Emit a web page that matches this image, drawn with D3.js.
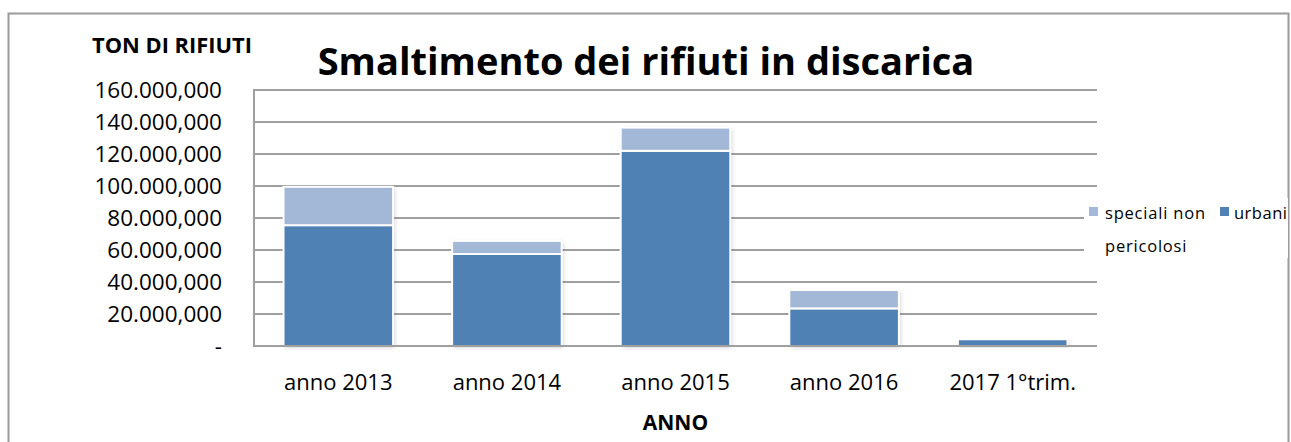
<!DOCTYPE html>
<html>
<head>
<meta charset="utf-8">
<script src="https://cdn.jsdelivr.net/npm/d3@7"></script>
<style>
  body { margin: 0; background: #fff; }
  svg { display: block; }
</style>
</head>
<body>
<div id="vis"></div>
<script>
// data (tonnes)
var categories = ["anno 2013", "anno 2014", "anno 2015", "anno 2016", "2017 1°trim."];
var urbani     = [75500000, 57500000, 122000000, 23500000, 4200000];
var speciali   = [24000000, 8200000, 14500000, 11500000, 0];
var yTicks     = [0, 20000000, 40000000, 60000000, 80000000, 100000000, 120000000, 140000000, 160000000];
var seriesNames = ["speciali non pericolosi", "urbani"];

var W = 1291, H = 442;
var font = "'Open Sans', sans-serif";
var colUrb = "#4f81b4", colSpec = "#a3b7d6", gridCol = "#a0a0a0";

var svg = d3.select("#vis").append("svg")
  .attr("width", W)
  .attr("height", H);

// shadow for bars
var defs = svg.append("defs");
var f = defs.append("filter").attr("id", "shadow")
  .attr("x", "-10%").attr("y", "-10%").attr("width", "130%").attr("height", "130%");
f.append("feDropShadow").attr("dx", 1.5).attr("dy", 1.5).attr("stdDeviation", 2)
  .attr("flood-color", "#000").attr("flood-opacity", 0.18);

// chart frame
svg.append("rect")
  .attr("x", 8.5).attr("y", 13.5)
  .attr("width", 1280).attr("height", 440)
  .attr("fill", "#fff")
  .attr("stroke", "#9a9a9a").attr("stroke-width", 2);

var plot = {left: 254, right: 1097, top: 90, bottom: 346};

var x = d3.scaleBand()
  .domain(categories)
  .range([plot.left, plot.right])
  .paddingInner(0.35)
  .paddingOuter(0.175);

var y = d3.scaleLinear()
  .domain([0, 160000000])
  .range([plot.bottom, plot.top]);

// italian style labels like the picture: 160.000,000
function fmt(v) {
  if (v === 0) return "-";
  var s = d3.format(",")(v / 1000).replace(/,/g, ".");
  return s + ",000";
}

// gridlines
svg.append("g")
  .selectAll("line")
  .data(yTicks)
  .join("line")
  .attr("x1", plot.left).attr("x2", plot.right)
  .attr("y1", d => y(d)).attr("y2", d => y(d))
  .attr("stroke", gridCol).attr("stroke-width", 2);

// left axis line
svg.append("line")
  .attr("x1", plot.left).attr("x2", plot.left)
  .attr("y1", plot.top - 1).attr("y2", plot.bottom + 1)
  .attr("stroke", gridCol).attr("stroke-width", 2);

// y labels
svg.append("g")
  .selectAll("text")
  .data(yTicks)
  .join("text")
  .attr("x", 222)
  .attr("y", d => y(d) + 8)
  .attr("text-anchor", "end")
  .style("font-family", font)
  .style("font-size", "22.5px")
  .attr("fill", "#000")
  .text(fmt);

// stacked bars
var rows = categories.map((c, i) => ({cat: c, urbani: urbani[i], speciali: speciali[i]}));
var stack = d3.stack().keys(["urbani", "speciali"])(rows);
var colors = {urbani: colUrb, speciali: colSpec};

var bars = svg.append("g").attr("class", "bars");
// shadow underlay per bar
bars.selectAll("rect.sh")
  .data(rows)
  .join("rect")
  .attr("class", "sh")
  .attr("x", d => x(d.cat))
  .attr("width", x.bandwidth())
  .attr("y", d => y(d.urbani + d.speciali))
  .attr("height", d => y(0) - y(d.urbani + d.speciali))
  .attr("fill", "#fff")
  .style("filter", "url(#shadow)");

stack.forEach(function(layer) {
  bars.append("g")
    .selectAll("rect")
    .data(layer.filter(d => d[1] > d[0]))
    .join("rect")
    .attr("x", d => x(d.data.cat))
    .attr("width", x.bandwidth())
    .attr("y", d => y(d[1]))
    .attr("height", d => y(d[0]) - y(d[1]))
    .attr("fill", colors[layer.key])
    .attr("stroke", "#fff")
    .attr("stroke-width", 2);
});

// redraw baseline over bars
svg.append("line")
  .attr("x1", plot.left).attr("x2", plot.right)
  .attr("y1", y(0)).attr("y2", y(0))
  .attr("stroke", gridCol).attr("stroke-width", 2);

// x labels
svg.append("g")
  .selectAll("text")
  .data(categories)
  .join("text")
  .attr("x", d => x(d) + x.bandwidth() / 2)
  .attr("y", 390)
  .attr("text-anchor", "middle")
  .style("font-family", font)
  .style("font-size", "22px")
  .text(d => d);

// axis titles
svg.append("text")
  .attr("x", (plot.left + plot.right) / 2)
  .attr("y", 430)
  .attr("text-anchor", "middle")
  .style("font-family", font)
  .style("font-size", "21px")
  .style("font-weight", "bold")
  .text("ANNO");

var yTitle = svg.append("text")
  .attr("x", 92)
  .attr("y", 53)
  .style("font-family", font)
  .style("font-size", "20px")
  .style("font-weight", "bold")
  .text("TON DI RIFIUTI");
var yw = yTitle.node().getComputedTextLength();
yTitle.style("font-size", (20 * 160 / yw) + "px");

// title
var title = svg.append("text")
  .attr("x", 646)
  .attr("y", 75)
  .attr("text-anchor", "middle")
  .style("font-family", font)
  .style("font-size", "38px")
  .style("font-weight", "bold")
  .text("Smaltimento dei rifiuti in discarica");
var tw = title.node().getComputedTextLength();
title.style("font-size", (38 * 657 / tw) + "px");

// legend
var leg = svg.append("g").attr("class", "legend");
leg.append("rect")
  .attr("x", 1084).attr("y", 198)
  .attr("width", 204).attr("height", 60)
  .attr("fill", "#fff");
var legFont = "16.5px";
leg.append("rect").attr("x", 1089).attr("y", 207).attr("width", 9).attr("height", 9).attr("fill", colSpec);
leg.append("text").attr("x", 1105).attr("y", 219)
  .style("font-family", font).style("font-size", legFont).style("letter-spacing", "0.8px")
  .text("speciali non");
leg.append("text").attr("x", 1105).attr("y", 252)
  .style("font-family", font).style("font-size", legFont).style("letter-spacing", "0.8px")
  .text("pericolosi");
leg.append("rect").attr("x", 1220).attr("y", 207).attr("width", 9).attr("height", 9).attr("fill", colUrb);
leg.append("text").attr("x", 1234).attr("y", 219)
  .style("font-family", font).style("font-size", legFont).style("letter-spacing", "0.5px")
  .text(seriesNames[1]);
</script>
</body>
</html>
